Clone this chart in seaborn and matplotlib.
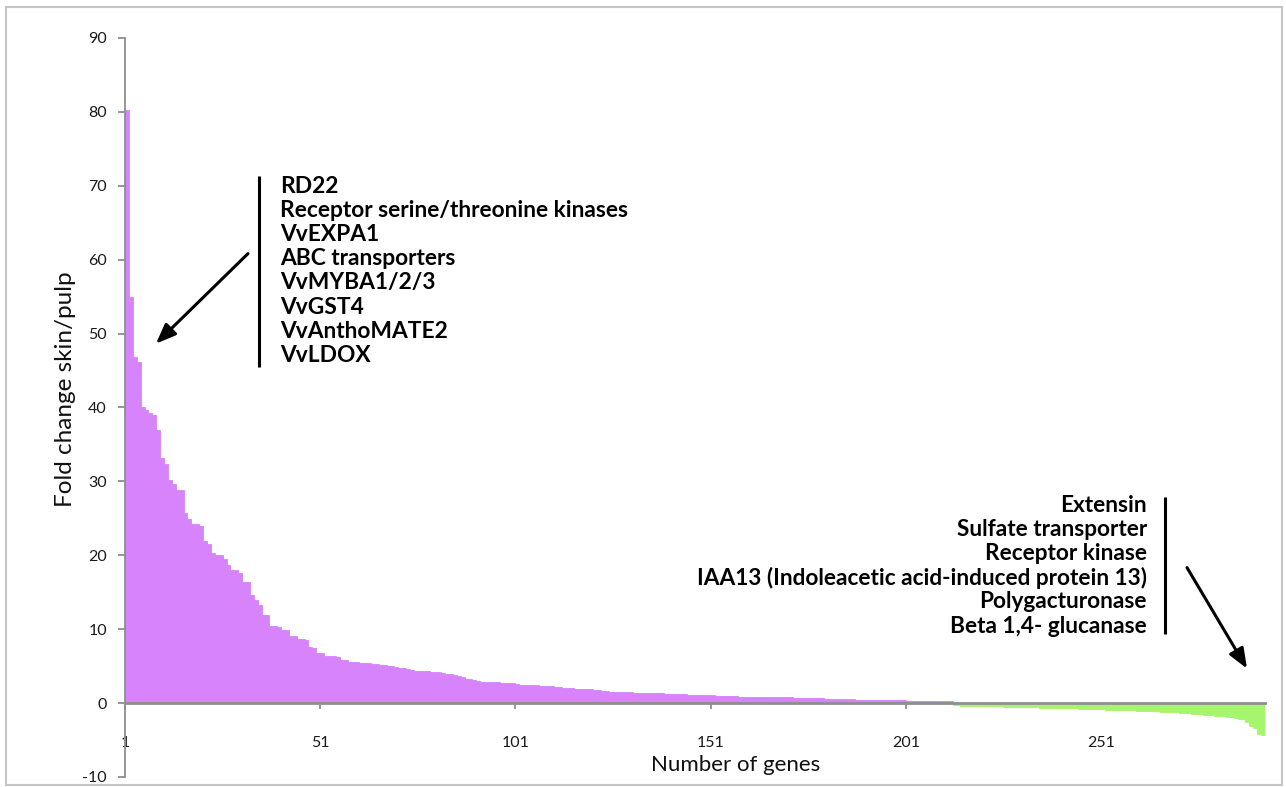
import numpy as np
import pandas as pd
import matplotlib
matplotlib.use("Agg")
import matplotlib.pyplot as plt
import matplotlib.patches as mpatches
import seaborn as sns

# ---------------- data ----------------
pos_values = [
    80.2, 55.0, 46.8, 46.1, 40.0, 39.6, 39.3, 39.0, 36.9, 33.1,
    32.3, 30.2, 29.7, 28.8, 28.8, 25.7, 24.9, 24.2, 24.2, 23.9,
    22.0, 21.5, 20.3, 20.1, 20.0, 19.5, 18.7, 18.0, 18.0, 17.6,
    16.4, 16.4, 14.6, 14.0, 13.3, 11.9, 11.9, 10.4, 10.4, 10.3,
    9.9, 9.9, 9.1, 9.1, 8.7, 8.7, 8.6, 7.6, 7.5, 6.8,
    6.8, 6.4, 6.4, 6.4, 6.3, 5.8, 5.8, 5.6, 5.6, 5.5,
    5.4, 5.4, 5.4, 5.3, 5.3, 5.1, 5.1, 5.0, 5.0, 4.9,
    4.8, 4.7, 4.6, 4.5, 4.4, 4.3, 4.3, 4.3, 4.25, 4.25,
    4.2, 4.1, 4.0, 3.9, 3.8, 3.65, 3.5, 3.3, 3.2, 3.1,
    3.0, 2.9, 2.85, 2.8, 2.8, 2.8, 2.75, 2.75, 2.7, 2.7,
    2.6, 2.5, 2.45, 2.45, 2.4, 2.4, 2.35, 2.33, 2.3, 2.25,
    2.2, 2.15, 2.0, 2.0, 1.98, 1.95, 1.93, 1.9, 1.87, 1.85,
    1.8, 1.75, 1.7, 1.6, 1.55, 1.52, 1.5, 1.48, 1.46, 1.45,
    1.43, 1.41, 1.4, 1.38, 1.36, 1.35, 1.33, 1.3, 1.28, 1.26,
    1.24, 1.22, 1.2, 1.18, 1.16, 1.14, 1.13, 1.12, 1.11, 1.1,
    1.05, 1.0, 0.97, 0.94, 0.92, 0.91, 0.9, 0.89, 0.88, 0.87,
    0.86, 0.85, 0.84, 0.83, 0.82, 0.81, 0.8, 0.79, 0.78, 0.77,
    0.76, 0.75, 0.74, 0.73, 0.72, 0.7, 0.68, 0.66, 0.64, 0.62,
    0.6, 0.58, 0.56, 0.54, 0.52, 0.5, 0.49, 0.48, 0.47, 0.46,
    0.45, 0.44, 0.43, 0.42, 0.41, 0.4, 0.39, 0.38, 0.37, 0.36,
    0.35, 0.34, 0.33, 0.32, 0.31, 0.3, 0.29, 0.28, 0.27, 0.26,
    0.25, 0.24,
]
neg_values = [
    -0.30, -0.31, -0.33, -0.34, -0.35, -0.36, -0.38, -0.39, -0.40, -0.42,
    -0.43, -0.45, -0.46, -0.48, -0.50,
    -0.51, -0.52, -0.54, -0.55, -0.56, -0.58, -0.59, -0.60, -0.62, -0.63,
    -0.64, -0.66, -0.67, -0.68, -0.70, -0.71, -0.73,
    -0.75, -0.76, -0.78, -0.80, -0.82, -0.84, -0.85, -0.87, -0.89, -0.91,
    -0.93, -0.94, -0.96, -0.98, -1.00, -1.02, -1.04,
    -1.06, -1.08, -1.10, -1.12, -1.15, -1.18, -1.21, -1.24, -1.27,
    -1.31, -1.35, -1.39, -1.43, -1.47, -1.51, -1.55, -1.60,
    -1.65, -1.70, -1.75, -1.80, -1.86, -1.92, -2.00, -2.10,
    -2.2, -2.6, -3.1, -3.4, -4.2, -4.3,
]
x_tick_labels = ["1", "51", "101", "151", "201", "251"]
y_ticks = [-10, 0, 10, 20, 30, 40, 50, 60, 70, 80, 90]

up_genes = ["RD22", "Receptor serine/threonine kinases", "VvEXPA1",
            "ABC transporters", "VvMYBA1/2/3", "VvGST4", "VvAnthoMATE2", "VvLDOX"]
down_genes = ["Extensin", "Sulfate transporter", "Receptor kinase",
              "IAA13 (Indoleacetic acid-induced protein 13)", "Polygacturonase",
              "Beta 1,4- glucanase"]

PURPLE = "#D683FC"
GREEN = "#A6F56E"
AXIS_GRAY = "#8E8E8E"

values = pos_values + neg_values
df = pd.DataFrame({
    "gene": np.arange(1, len(values) + 1),
    "fold": values,
    "direction": ["up"] * len(pos_values) + ["down"] * len(neg_values),
})

# ---------------- plot ----------------
sns.set_theme(style="white")
plt.rcParams["font.family"] = ["Lato", "DejaVu Sans"]

fig = plt.figure(figsize=(12.86, 7.87), dpi=100)
ax = fig.add_axes([125 / 1286, 1 - 777 / 787, 1140 / 1286, 739 / 787])

sns.barplot(data=df, x="gene", y="fold", hue="direction",
            palette={"up": PURPLE, "down": GREEN}, dodge=False, width=1,
            legend=False, ax=ax, linewidth=0, saturation=1)
for p in ax.patches:
    p.set_edgecolor(p.get_facecolor())
    p.set_linewidth(0.6)

n = len(values)
ax.set_xlim(-0.5, n - 0.5)
ax.set_ylim(-10, 90)

ax.set_yticks(y_ticks)
ax.set_yticklabels([str(v) for v in y_ticks])
tick_pos = [int(t) - 1 - 0.5 for t in x_tick_labels]
ax.set_xticks(tick_pos)
ax.set_xticklabels(x_tick_labels)

for s in ["top", "right"]:
    ax.spines[s].set_visible(False)
ax.spines["left"].set_color(AXIS_GRAY)
ax.spines["left"].set_linewidth(1.3)
ax.spines["bottom"].set_position(("data", 0))
ax.spines["bottom"].set_color(AXIS_GRAY)
ax.spines["bottom"].set_linewidth(2.0)
ax.spines["bottom"].set_zorder(5)

ax.tick_params(axis="y", direction="out", length=5, width=1.3, color=AXIS_GRAY,
               left=True, pad=8, labelsize=11.5, labelcolor="#1a1a1a")
ax.tick_params(axis="x", direction="out", length=4, width=1.3, color=AXIS_GRAY,
               bottom=True, pad=20, labelsize=11.5, labelcolor="#1a1a1a")

ax.set_xlabel("Number of genes", fontsize=16, color="#111111")
ax.xaxis.set_label_coords(0.536, 0.030)
ax.set_ylabel("Fold change skin/pulp", fontsize=17.5, color="#111111")
ax.yaxis.label.set_va("center")
ax.yaxis.set_label_coords(-0.052, 0.525)

# ---------------- annotations ----------------
px_per_x = 1140 / n
px_per_y = 739 / 100


def dx(px):
    return (px - 125) / px_per_x - 0.5


def dy(py):
    return (702.5 - py) / px_per_y


line_step = 24.1 / px_per_y
for i, txt in enumerate(up_genes):
    ax.text(dx(280), dy(186) - i * line_step, txt, ha="left", va="center",
            fontsize=16.4, fontweight="bold", color="black")
ax.plot([dx(259), dx(259)], [dy(175), dy(366)], color="black", lw=2.2,
        solid_capstyle="butt")
ax.annotate("", xy=(dx(156), dy(343)), xytext=(dx(248), dy(253)),
            arrowprops=dict(arrowstyle="-|>,head_length=1.0,head_width=0.4",
                            color="black", lw=2.2, shrinkA=0, shrinkB=0))

for i, txt in enumerate(down_genes):
    ax.text(dx(1147), dy(505) - i * line_step, txt, ha="right", va="center",
            fontsize=16.3, fontweight="bold", color="black")
ax.plot([dx(1165), dx(1165)], [dy(496), dy(633)], color="black", lw=2.2,
        solid_capstyle="butt")
ax.annotate("", xy=(dx(1247), dy(668)), xytext=(dx(1187), dy(567)),
            arrowprops=dict(arrowstyle="-|>,head_length=1.0,head_width=0.4",
                            color="black", lw=2.2, shrinkA=0, shrinkB=0))

# light frame around the whole figure
fig.patches.append(mpatches.Rectangle((6 / 1286, 1 - 785 / 787), 1276 / 1286, 778 / 787,
                                      transform=fig.transFigure, fill=False,
                                      edgecolor="#C4C4C4", lw=1.5))

fig.savefig("out.png", dpi=100)
